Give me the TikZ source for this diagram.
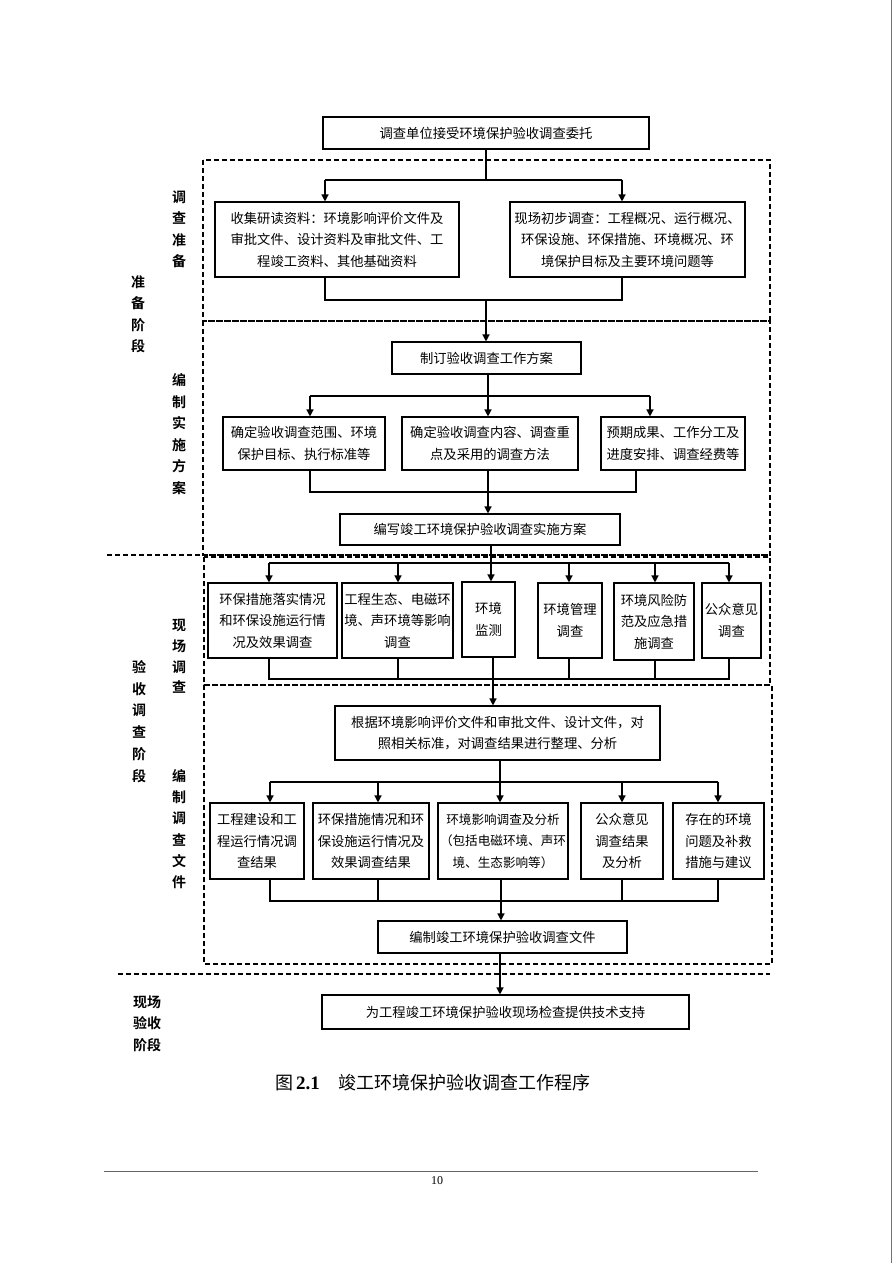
\documentclass[tikz,border=0pt]{standalone}
\usepackage{fontspec}
\setmainfont{Liberation Serif}
\newfontfamily\cjk{Noto Sans CJK SC}
\newfontfamily\cjkb{Noto Sans CJK SC Bold}
\usetikzlibrary{arrows.meta,shadows}
\newcommand\boxfont{\cjk\fontsize{13.3}{21.5}\selectfont}
\newcommand\labfont{\cjkb\fontsize{14}{21.6}\selectfont}
\begin{document}
\begin{tikzpicture}[x=1pt,y=-1pt,
  box/.style={draw, line width=1.1pt, fill=white, inner sep=0pt, align=center, font=\boxfont,
    drop shadow={shadow xshift=1.2pt, shadow yshift=-1.2pt, fill=black!45, opacity=1}},
  lab/.style={inner sep=0pt, align=center, font=\labfont},
  ln/.style={line width=1.3pt},
  arr/.style={line width=1.3pt, -{Triangle[length=7pt,width=7pt]}},
  dsh/.style={line width=1.4pt, dash pattern=on 5pt off 3pt}]
\fill[white] (0,0) rectangle (893,1263);
\useasboundingbox (0,0) rectangle (893,1263);
\draw[black!55, line width=1.5pt] (891.5,0) -- (891.5,1263);

% dashed frames
\draw[dsh] (203,160) rectangle (770,321);
\draw[dsh] (203,321) rectangle (770,555);
\draw[dsh] (107,555) -- (770,555);
\draw[dsh] (204,557) rectangle (770,685);
\draw[dsh] (204,685) rectangle (772,964);
\draw[dsh] (118,974) -- (770,974);

% labels
\node[lab] (L1) at (179,229.3) {调\\查\\准\\备};
\node[lab] (L2) at (138,314.3) {准\\备\\阶\\段};
\node[lab] (L3) at (179,434.2) {编\\制\\实\\施\\方\\案};
\node[lab, font=\cjkb\fontsize{14}{20.7}\selectfont] (L4) at (179,656.5) {现\\场\\调\\查};
\node[lab, font=\cjkb\fontsize{14}{21.8}\selectfont] (L5) at (139,721.5) {验\\收\\调\\查\\阶\\段};
\node[lab, font=\cjkb\fontsize{14}{21.2}\selectfont] (L6) at (179,829.2) {编\\制\\调\\查\\文\\件};
\node[lab, font=\cjkb\fontsize{14}{21.5}\selectfont] (L7) at (147,1023.3) {现场\\验收\\阶段};

% group 1
\node[box, minimum width=326, minimum height=32] (T) at (486,133) {调查单位接受环境保护验收调查委托};
\node[box, minimum width=244, minimum height=75] (P1) at (337,239.5) {收集研读资料：环境影响评价文件及\\审批文件、设计资料及审批文件、工\\程竣工资料、其他基础资料};
\node[box, minimum width=235, minimum height=75] (P2) at (627.5,239.5) {现场初步调查：工程概况、运行概况、\\环保设施、环保措施、环境概况、环\\境保护目标及主要环境问题等};
\coordinate (j1) at (486,180);
\coordinate (b1l) at (325,180);
\coordinate (b1r) at (622,180);
\coordinate (m1l) at (325,300);
\coordinate (m1r) at (622,300);
\coordinate (m1c) at (486,300);
\draw[ln] (T.south) -- (j1);
\draw[ln] (b1l) -- (b1r);
\draw[arr] (b1l) -- (b1l |- P1.north);
\draw[arr] (b1r) -- (b1r |- P2.north);
\draw[ln] (m1l |- P1.south) -- (m1l) -- (m1r) -- (m1r |- P2.south);

% group 2
\node[box, minimum width=189, minimum height=32] (M) at (486.5,358) {制订验收调查工作方案};
\draw[arr] (m1c) -- (m1c |- M.north);
\node[box, minimum width=162, minimum height=53] (A) at (304,443.5) {确定验收调查范围、环境\\保护目标、执行标准等};
\node[box, minimum width=176, minimum height=53] (B) at (490,443.5) {确定验收调查内容、调查重\\点及采用的调查方法};
\node[box, minimum width=144, minimum height=53] (C) at (673,443.5) {预期成果、工作分工及\\进度安排、调查经费等};
\coordinate (j2) at (488,396);
\coordinate (b2l) at (310,396);
\coordinate (b2r) at (650,396);
\draw[ln] (j2 |- M.south) -- (j2);
\draw[ln] (b2l) -- (b2r);
\draw[arr] (b2l) -- (b2l |- A.north);
\draw[arr] (j2) -- (j2 |- B.north);
\draw[arr] (b2r) -- (b2r |- C.north);
\node[box, minimum width=280, minimum height=31] (W) at (480,529.5) {编写竣工环境保护验收调查实施方案};
\coordinate (m2l) at (310,492);
\coordinate (m2c) at (488,492);
\coordinate (m2r) at (636,492);
\draw[ln] (m2l |- A.south) -- (m2l) -- (m2r) -- (m2r |- C.south);
\draw[ln] (m2c |- B.south) -- (m2c);
\draw[arr] (m2c) -- (m2c |- W.north);

% group 3
\node[box, minimum width=129, minimum height=75] (S1) at (272.5,620.5) {环保措施落实情况\\和环保设施运行情\\况及效果调查};
\node[box, minimum width=111, minimum height=75] (S2) at (397.5,620.5) {工程生态、电磁环\\境、声环境等影响\\调查};
\node[box, minimum width=53, minimum height=75] (S3) at (488.5,619.5) {环境\\监测};
\node[box, minimum width=64, minimum height=75] (S4) at (570,620.5) {环境管理\\调查};
\node[box, minimum width=80, minimum height=77] (S5) at (654,621.5) {环境风险防\\范及应急措\\施调查};
\node[box, minimum width=59, minimum height=75] (S6) at (731.5,620.5) {公众意见\\调查};
\coordinate (t3) at (491,563);
\coordinate (b3a) at (269,563);
\coordinate (b3b) at (398,563);
\coordinate (b3d) at (569,563);
\coordinate (b3e) at (655,563);
\coordinate (b3f) at (729,563);
\draw[ln] (b3a) -- (b3f);
\draw[arr] (t3 |- W.south) -- (t3 |- S3.north);
\draw[arr] (b3a) -- (b3a |- S1.north);
\draw[arr] (b3b) -- (b3b |- S2.north);
\draw[arr] (b3d) -- (b3d |- S4.north);
\draw[arr] (b3e) -- (b3e |- S5.north);
\draw[arr] (b3f) -- (b3f |- S6.north);
\coordinate (m3a) at (269,679);
\coordinate (m3b) at (398,679);
\coordinate (m3c) at (493,679);
\coordinate (m3d) at (569,679);
\coordinate (m3e) at (655,679);
\coordinate (m3f) at (729,679);
\draw[ln] (m3a |- S1.south) -- (m3a) -- (m3f) -- (m3f |- S6.south);
\draw[ln] (m3b |- S2.south) -- (m3b);
\draw[ln] (m3d |- S4.south) -- (m3d);
\draw[ln] (m3e |- S5.south) -- (m3e);

% group 4
\node[box, minimum width=325, minimum height=54] (R) at (497.5,733) {根据环境影响评价文件和审批文件、设计文件，对\\照相关标准，对调查结果进行整理、分析};
\draw[arr] (m3c |- S3.south) -- (m3c |- R.north);
\node[box, minimum width=94, minimum height=76] (D1) at (257,841) {工程建设和工\\程运行情况调\\查结果};
\node[box, minimum width=116, minimum height=76] (D2) at (371,841) {环保措施情况和环\\保设施运行情况及\\效果调查结果};
\node[box, minimum width=130, minimum height=76, font=\cjk\fontsize{12.6}{21.5}\selectfont] (D3) at (503,841) {环境影响调查及分析\\（包括电磁环境、声环\\境、生态影响等）};
\node[box, minimum width=82, minimum height=76] (D4) at (622,841) {公众意见\\调查结果\\及分析};
\node[box, minimum width=91, minimum height=76] (D5) at (718.5,841) {存在的环境\\问题及补救\\措施与建议};
\coordinate (b4a) at (270,782);
\coordinate (b4b) at (378,782);
\coordinate (b4c) at (500,782);
\coordinate (b4d) at (622,782);
\coordinate (b4e) at (718,782);
\draw[ln] (b4a) -- (b4e);
\draw[arr] (b4c |- R.south) -- (b4c |- D3.north);
\draw[arr] (b4a) -- (b4a |- D1.north);
\draw[arr] (b4b) -- (b4b |- D2.north);
\draw[arr] (b4d) -- (b4d |- D4.north);
\draw[arr] (b4e) -- (b4e |- D5.north);
\node[box, minimum width=249, minimum height=32] (E) at (502.5,937) {编制竣工环境保护验收调查文件};
\coordinate (m4a) at (270,901);
\coordinate (m4b) at (378,901);
\coordinate (m4c) at (501,901);
\coordinate (m4d) at (622,901);
\coordinate (m4e) at (718,901);
\draw[ln] (m4a |- D1.south) -- (m4a) -- (m4e) -- (m4e |- D5.south);
\draw[ln] (m4b |- D2.south) -- (m4b);
\draw[ln] (m4d |- D4.south) -- (m4d);
\draw[arr] (m4c |- D3.south) -- (m4c |- E.north);

% final
\node[box, minimum width=367, minimum height=34] (F) at (505.5,1012) {为工程竣工环境保护验收现场检查提供技术支持};
\coordinate (t5) at (500,960);
\draw[arr] (t5 |- E.south) -- (t5 |- F.north);

% caption and footer
\node[inner sep=0pt, anchor=west] (cap) at (275,1083) {\cjk\fontsize{18}{20}\selectfont 图\hspace{3pt}{\fontsize{19}{20}\selectfont\rmfamily\bfseries 2.1}\hspace{19pt}竣工环境保护验收调查工作程序};
\coordinate (pl) at (104,1171);
\coordinate (pr) at (758,1171);
\draw[black!60, line width=0.8pt] (pl) -- (pr);
\node[inner sep=0pt, font=\fontsize{12}{14}\selectfont] (pg) at (437,1181) {10};
\end{tikzpicture}
\end{document}
